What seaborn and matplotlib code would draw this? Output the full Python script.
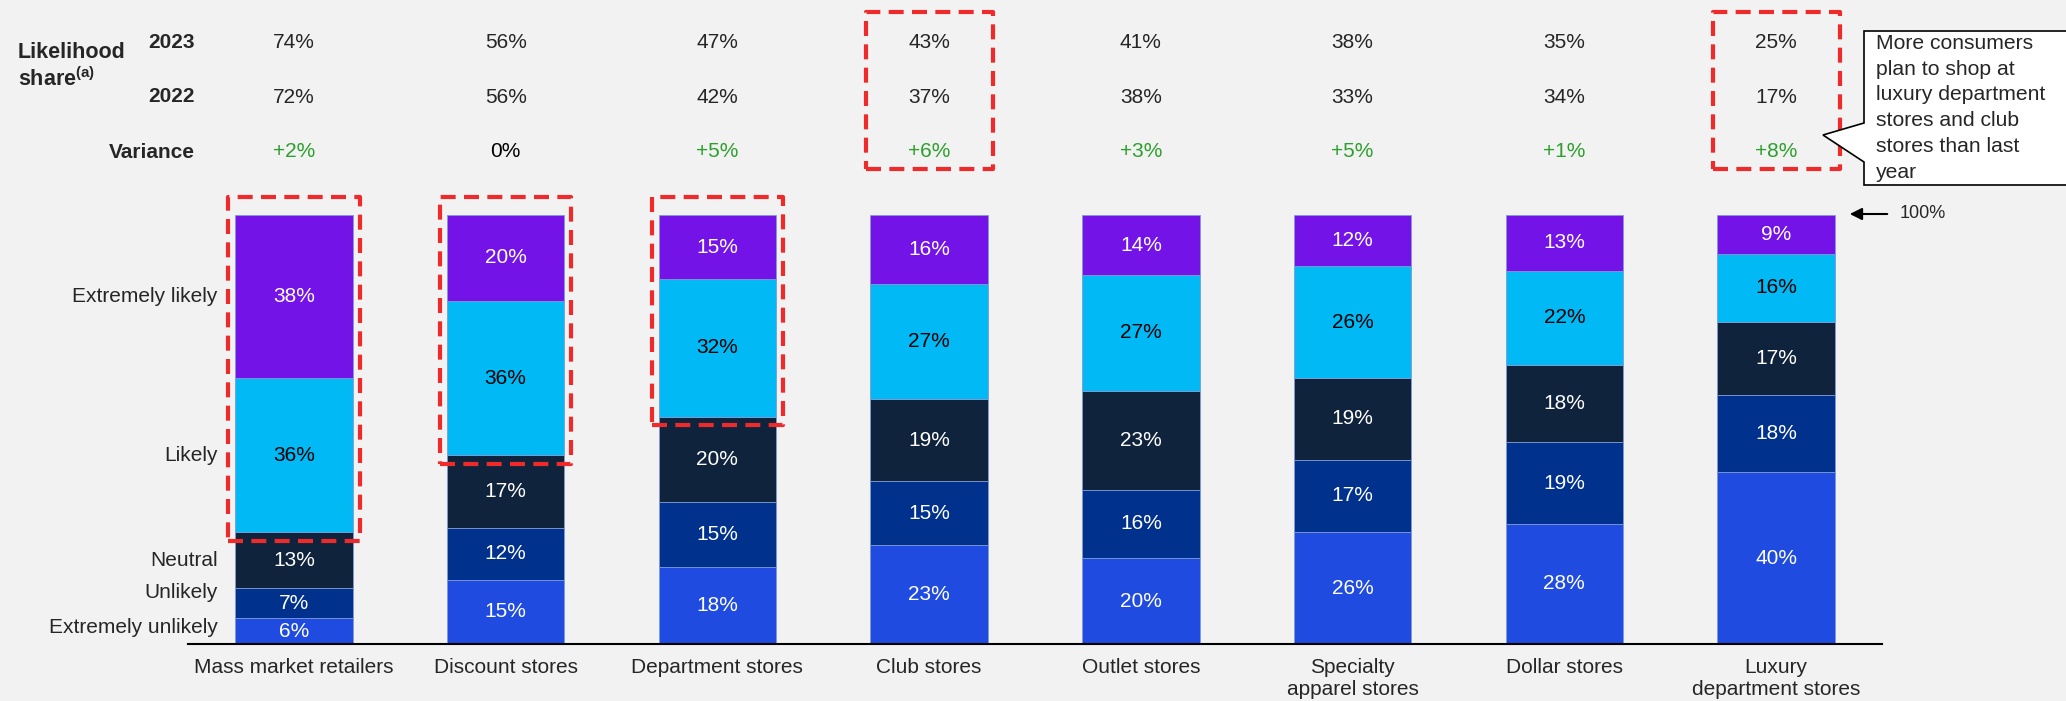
import matplotlib
matplotlib.use('Agg')
import matplotlib.pyplot as plt
from matplotlib.patches import Rectangle, Polygon
import seaborn as sns
import numpy as np
import pandas as pd

# данные
stores = ['Mass market retailers', 'Discount stores', 'Department stores', 'Club stores',
          'Outlet stores', 'Specialty\napparel stores', 'Dollar stores', 'Luxury\ndepartment stores']
levels = ['Extremely unlikely', 'Unlikely', 'Neutral', 'Likely', 'Extremely likely']
extremely_unlikely = [6, 15, 18, 23, 20, 26, 28, 40]
unlikely = [7, 12, 15, 15, 16, 17, 19, 18]
neutral = [13, 17, 20, 19, 23, 19, 18, 17]
likely = [36, 36, 32, 27, 27, 26, 22, 16]
extremely_likely = [38, 20, 15, 16, 14, 12, 13, 9]
share_2023 = [74, 56, 47, 43, 41, 38, 35, 25]
share_2022 = [72, 56, 42, 37, 38, 33, 34, 17]
variance = ['+2%', '0%', '+5%', '+6%', '+3%', '+5%', '+1%', '+8%']
callout = 'More consumers\nplan to shop at\nluxury department\nstores and club\nstores than last\nyear'

colors = ['#1F4BE0', '#00318C', '#0F233C', '#00B9F5', '#7413E8']
text_colors = ['white', 'white', 'white', 'black', 'white']
green = '#2CA02C'
red = '#EE2A2A'
bg = '#F2F2F2'

sns.set_style('white')
plt.rcParams['font.family'] = ['Liberation Sans', 'DejaVu Sans']
plt.rcParams['mathtext.fontset'] = 'custom'
plt.rcParams['mathtext.rm'] = 'Liberation Sans'
plt.rcParams['mathtext.bf'] = 'Liberation Sans:bold'

W, H = 2066, 701
fig = plt.figure(figsize=(W / 100, H / 100), dpi=100, facecolor=bg)
ax = fig.add_axes([188 / W, 57 / H, 1694 / W, 429 / H])
ax.set_facecolor(bg)


def px(x, y):
    return x / W, 1 - y / H


series = [extremely_unlikely, unlikely, neutral, likely, extremely_likely]
bottom = np.zeros(len(stores))
for vals, col, tc in zip(series, colors, text_colors):
    sns.barplot(x=stores, y=vals, bottom=bottom, color=col, width=0.555, saturation=1,
                edgecolor='#7f9ad6', linewidth=0.6, ax=ax)
    cont = ax.containers[-1]
    ax.bar_label(cont, labels=[f'{v}%' for v in vals], label_type='center',
                 color=tc, fontsize=15)
    bottom = bottom + np.array(vals)

ax.set_xlim(-0.5, 7.5)
ax.set_ylim(0, 100)
ax.set_xlabel('')
ax.set_ylabel('')
ax.set_yticks([])
ax.tick_params(axis='x', length=0, pad=10, labelsize=15)
for s in ['top', 'right', 'left']:
    ax.spines[s].set_visible(False)
ax.spines['bottom'].set_linewidth(1.5)
ax.spines['bottom'].set_color('black')

# подписи уровней слева (по первому столбцу, нижние чуть раздвинуты)
nudge = [0.8, 2.4, 0, 0, 0]
cum = np.cumsum([s[0] for s in series])
for lvl, top, v, dy in zip(levels, cum, [s[0] for s in series], nudge):
    ax.text(-0.36, top - v / 2 + dy, lvl, ha='right', va='center', fontsize=15)

# таблица сверху
ys = [140.1, 127.5, 114.7]
for i in range(len(stores)):
    ax.text(i, ys[0], f'{share_2023[i]}%', ha='center', va='center', fontsize=15, clip_on=False)
    ax.text(i, ys[1], f'{share_2022[i]}%', ha='center', va='center', fontsize=15, clip_on=False)
    ax.text(i, ys[2], variance[i], ha='center', va='center', fontsize=15, clip_on=False,
            color='black' if variance[i] == '0%' else green)

fig.text(*px(195, 43), '2023', ha='right', va='center', fontsize=15, fontweight='bold')
fig.text(*px(195, 97), '2022', ha='right', va='center', fontsize=15, fontweight='bold')
fig.text(*px(195, 152), 'Variance', ha='right', va='center', fontsize=15, fontweight='bold')
fig.text(*px(18, 53), 'Likelihood', ha='left', va='center', fontsize=15.5, fontweight='bold')
fig.text(*px(18, 79), r'share$^{\mathbf{(a)}}$', ha='left', va='center', fontsize=15.5,
         fontweight='bold')

# красные пунктирные рамки
dash = (0, (3.6, 2.0))
for i in range(3):
    lo = extremely_unlikely[i] + unlikely[i] + neutral[i] - 2
    ax.add_patch(Rectangle((i - 0.31, lo), 0.62, 104.2 - lo, fill=False, edgecolor=red,
                           linewidth=3, linestyle=dash, clip_on=False, joinstyle='round'))
for i in [3, 7]:
    ax.add_patch(Rectangle((i - 0.30, 110.7), 0.60, 36.6, fill=False, edgecolor=red,
                           linewidth=3, linestyle=dash, clip_on=False, joinstyle='round'))

# 100% стрелка
ax.annotate('', xy=(px(1847, 214)), xycoords='figure fraction', xytext=px(1890, 214),
            textcoords='figure fraction',
            arrowprops=dict(arrowstyle='-|>', color='black', lw=1.5, mutation_scale=18))
fig.text(*px(1900, 214), '100%', ha='left', va='center', fontsize=13)

# выноска
pts = [px(1864, 31), px(2070, 31), px(2070, 185), px(1864, 185), px(1864, 162),
       px(1823, 135), px(1864, 123)]
fig.patches.append(Polygon(pts, closed=True, facecolor='white', edgecolor='black',
                           linewidth=1.2, transform=fig.transFigure, figure=fig))
fig.text(*px(1876, 34), callout, ha='left', va='top', fontsize=15.2, linespacing=1.45)

fig.savefig('out.png', dpi=100, facecolor=bg)
